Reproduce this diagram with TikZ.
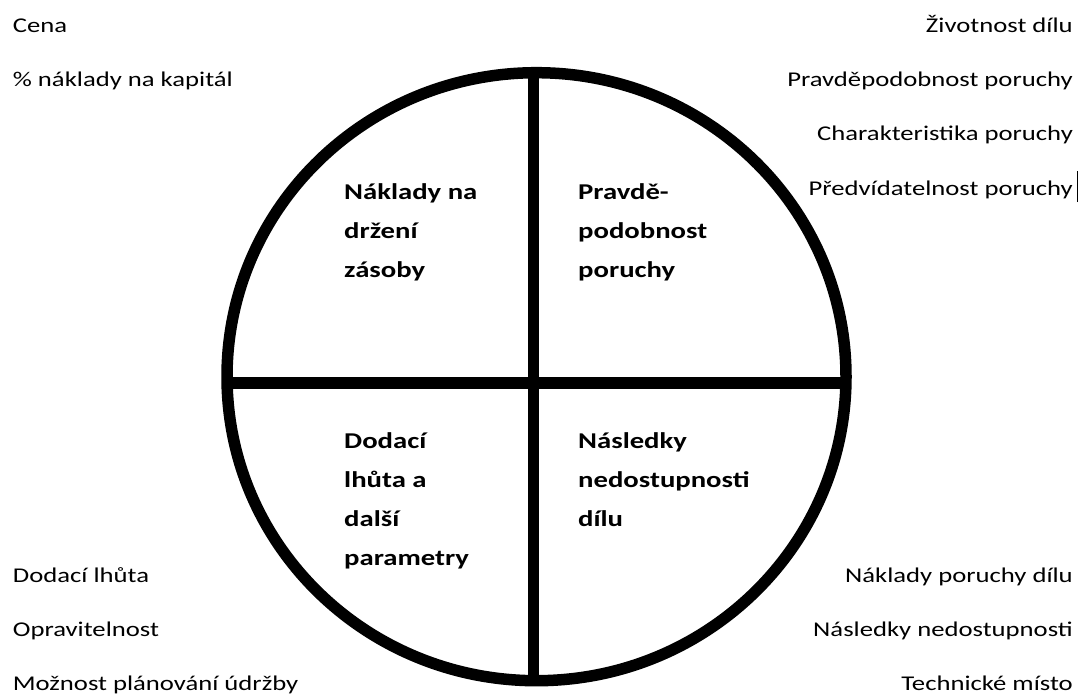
\documentclass[tikz,border=0pt]{standalone}
\usepackage{fontspec}
\setmainfont{Carlito}[FakeStretch=1.27]
\usetikzlibrary{positioning}

\begin{document}
\begin{tikzpicture}[x=1pt, y=-1pt,
  ring/.style={line width=11.5pt},
  item/.style={inner sep=0pt, font=\fontsize{21}{21}\selectfont},
  head/.style={inner sep=0pt, align=left, anchor=north west,
    font=\fontsize{22.6}{39.3}\selectfont\bfseries}]
  \useasboundingbox (0,0) rectangle (1087,698);

  % circle and the cross
  \coordinate (C) at (536.5,376.7);
  \draw[ring] (C) ellipse [x radius=309.5pt, y radius=304pt];
  \coordinate (hl) at (227,383);
  \coordinate (hr) at (846,383);
  \coordinate (vt) at (533.5,72);
  \coordinate (vb) at (533.5,681);
  \draw[ring] (hl) -- (hr);
  \draw[ring] (vt) -- (vb);

  % quadrant headings
  \node[head] (cost) at (344,183) {Náklady na\\držení\\zásoby};
  \node[head] (prob) at (578,183) {Pravdě-\\podobnost\\poruchy};
  \node[head] (lead) at (344,432) {Dodací\\lhůta a\\další\\parametry};
  \node[head] (cons) at (578,432) {Následky\\nedostupnosti\\dílu};

  % factors, top left
  \node[item, anchor=base west] (tl1) at (12.7,33) {Cena};
  \node[item, anchor=base west] (tl2) at (12.7,87) {\% náklady na kapitál};

  % factors, top right
  \node[item, anchor=base east] (tr1) at (1073,33) {Životnost dílu};
  \node[item, anchor=base east] (tr2) at (1073,87) {Pravděpodobnost poruchy};
  \node[item, anchor=base east] (tr3) at (1073,141) {Charakteristika poruchy};
  \node[item, anchor=base east] (tr4) at (1073,195) {Předvídatelnost poruchy};
  \draw[line width=1pt] ([xshift=4pt,yshift=-7pt]tr4.base east) coordinate (caret)
    -- ++(0,-31);

  % factors, bottom left
  \node[item, anchor=base west] (bl1) at (12.7,582) {Dodací lhůta};
  \node[item, anchor=base west] (bl2) at (12.7,636) {Opravitelnost};
  \node[item, anchor=base west] (bl3) at (12.7,690) {Možnost plánování údržby};

  % factors, bottom right
  \node[item, anchor=base east] (br1) at (1073,582) {Náklady poruchy dílu};
  \node[item, anchor=base east] (br2) at (1073,636) {Následky nedostupnosti};
  \node[item, anchor=base east] (br3) at (1073,690) {Technické místo};
\end{tikzpicture}
\end{document}
